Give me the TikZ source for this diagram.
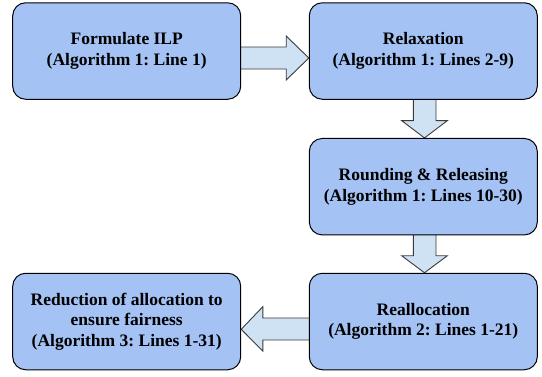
\documentclass[tikz,border=0pt]{standalone}
\usepackage{fontspec}
\setmainfont{LiberationSerif}[Extension=.ttf, UprightFont=*-Regular, BoldFont=*-Bold,
  ItalicFont=*-Italic, BoldItalicFont=*-BoldItalic]
\usetikzlibrary{calc,backgrounds}
\frenchspacing

\definecolor{boxblue}{HTML}{A4C2F4}
\definecolor{arrowblue}{HTML}{CFE2F3}
\definecolor{arrowline}{HTML}{3A3A3A}

\tikzset{
  stagebox/.style={draw=black, line width=1pt, fill=boxblue, rounded corners=13pt,
    minimum width=228pt, minimum height=96.5pt, align=center, inner sep=2pt,
    font=\bfseries\fontsize{17.5}{20.5}\selectfont},
  blockarrow/.style={draw=arrowline, line width=0.9pt, fill=arrowblue, line join=miter}
}

\begin{document}
\begin{tikzpicture}[x=1pt,y=-1pt]
  \useasboundingbox (0,0) rectangle (542,376);

  % processing stages
  \node[stagebox] (ilp)     at (126.7,51)    {Formulate ILP\\(Algorithm 1: Line 1)};
  \node[stagebox] (relax)   at (423.3,51)    {Relaxation\\(Algorithm 1: Lines 2-9)};
  \node[stagebox] (round)   at (423.3,186.7) {Rounding \& Releasing\\(Algorithm 1: Lines 10-30)};
  \node[stagebox] (realloc) at (423.3,321.5) {Reallocation\\(Algorithm 2: Lines 1-21)};
  \node[stagebox] (reduce)  at (126.7,321.5) {Reduction of allocation to\\ensure fairness\\(Algorithm 3: Lines 1-31)};

  % block arrows between the stages
  \begin{scope}[on background layer]
    \draw[blockarrow]
      ($(ilp.east)+(-2,-4)$) -- ($(relax.west)+(-22.6,-4)$) -- ($(relax.west)+(-22.6,-15)$)
      -- ($(relax.west)+(0,7)$) -- ($(relax.west)+(-22.6,29)$) -- ($(relax.west)+(-22.6,18)$)
      -- ($(ilp.east)+(-2,18)$) -- cycle;
    \draw[blockarrow]
      ($(relax.south)+(-10,-2)$) -- ($(round.north)+(-10,-17.3)$) -- ($(round.north)+(-21.6,-17.3)$)
      -- ($(round.north)+(1.2,0)$) -- ($(round.north)+(24,-17.3)$) -- ($(round.north)+(12.7,-17.3)$)
      -- ($(relax.south)+(12.7,-2)$) -- cycle;
    \draw[blockarrow]
      ($(round.south)+(-10,-2)$) -- ($(realloc.north)+(-10,-17)$) -- ($(realloc.north)+(-21.6,-17)$)
      -- ($(realloc.north)+(1.2,0)$) -- ($(realloc.north)+(24,-17)$) -- ($(realloc.north)+(12.7,-17)$)
      -- ($(round.south)+(12.7,-2)$) -- cycle;
    \draw[blockarrow]
      ($(realloc.west)+(2,-3.5)$) -- ($(reduce.east)+(21.6,-3.5)$) -- ($(reduce.east)+(21.6,-14.8)$)
      -- ($(reduce.east)+(0,7.8)$) -- ($(reduce.east)+(21.6,29.5)$) -- ($(reduce.east)+(21.6,18.5)$)
      -- ($(realloc.west)+(2,18.5)$) -- cycle;
  \end{scope}
\end{tikzpicture}
\end{document}
